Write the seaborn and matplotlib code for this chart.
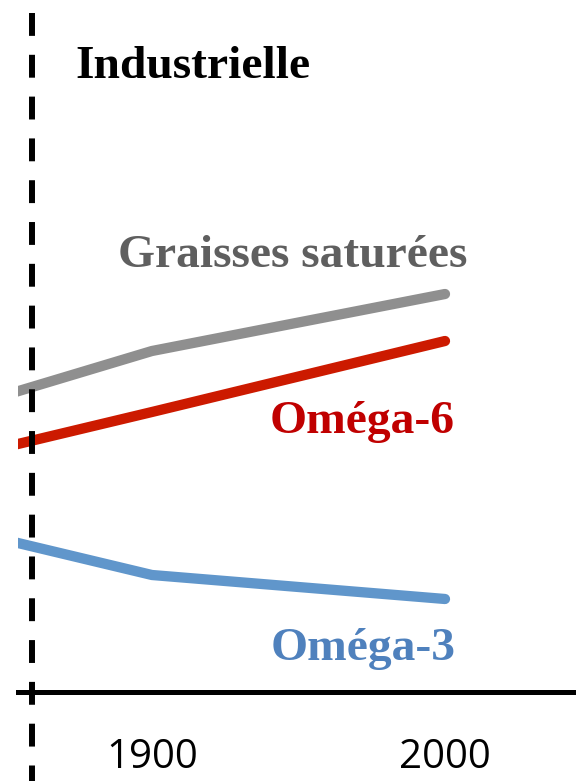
import numpy as np
import pandas as pd
import matplotlib
matplotlib.use("Agg")
import matplotlib.pyplot as plt
import seaborn as sns

# Dietary fat intake trends (relative units) across the industrial era
years = [1850, 1900, 2000]
graisses_saturees = [29.7, 34.1, 39.8]
omega6 = [24.5, 28.0, 35.1]
omega3 = [15.2, 11.7, 9.3]
series_names = ["Graisses saturées", "Oméga-6", "Oméga-3"]
tick_years = [1900, 2000]
tick_labels = ["1900", "2000"]
industrial_start = 1859

line_colors = {"Graisses saturées": "#8f8f8f", "Oméga-6": "#cc1a00", "Oméga-3": "#6096cb"}
text_colors = {"Graisses saturées": "#5f5f5f", "Oméga-6": "#c00000", "Oméga-3": "#4f81bd"}

df = pd.DataFrame({
    "year": years * 3,
    "value": graisses_saturees + omega6 + omega3,
    "series": [s for s in series_names for _ in years],
})

sns.set_style("white")
plt.rcParams["font.family"] = ["Liberation Serif", "DejaVu Serif"]

W, H = 576, 781
fig = plt.figure(figsize=(W / 100, H / 100), dpi=100)
ax = fig.add_axes([18 / W, 89 / H, (W - 18) / W, 692 / H])

sns.lineplot(data=df, x="year", y="value", hue="series", palette=line_colors,
             hue_order=series_names, legend=False, ax=ax, linewidth=7.4,
             solid_capstyle="round")

ax.set_xlim(1854.3, 2044.7)
ax.set_ylim(0, 69.2)

for side in ["top", "right", "left"]:
    ax.spines[side].set_visible(False)
ax.spines["bottom"].set_color("black")
ax.spines["bottom"].set_linewidth(3.6)

ax.set_yticks([])
ax.set_xticks(tick_years)
ax.set_xticklabels(tick_labels, fontfamily="Open Sans", fontsize=29, color="black")
ax.tick_params(axis="x", length=0, pad=33, labelcolor="black")
ax.set_xlabel("")
ax.set_ylabel("")

# Dashed marker for the start of the industrial period
ax.plot([industrial_start, industrial_start], [67.9, -8.9], color="black",
        linewidth=4.3, linestyle=(0, (3.83, 3.17)), dash_capstyle="butt",
        clip_on=False, zorder=5)

def label(text, x_px, base_px, color):
    fig.text(x_px / W, 1 - base_px / H, text, color=color, fontsize=34.2,
             fontweight="bold", ha="left", va="baseline")

label("Industrielle", 75, 78, "black")
label("Graisses saturées", 118, 267, text_colors["Graisses saturées"])
label("Oméga-6", 270, 433, text_colors["Oméga-6"])
label("Oméga-3", 271, 660, text_colors["Oméga-3"])

fig.savefig("out.png", dpi=100)
